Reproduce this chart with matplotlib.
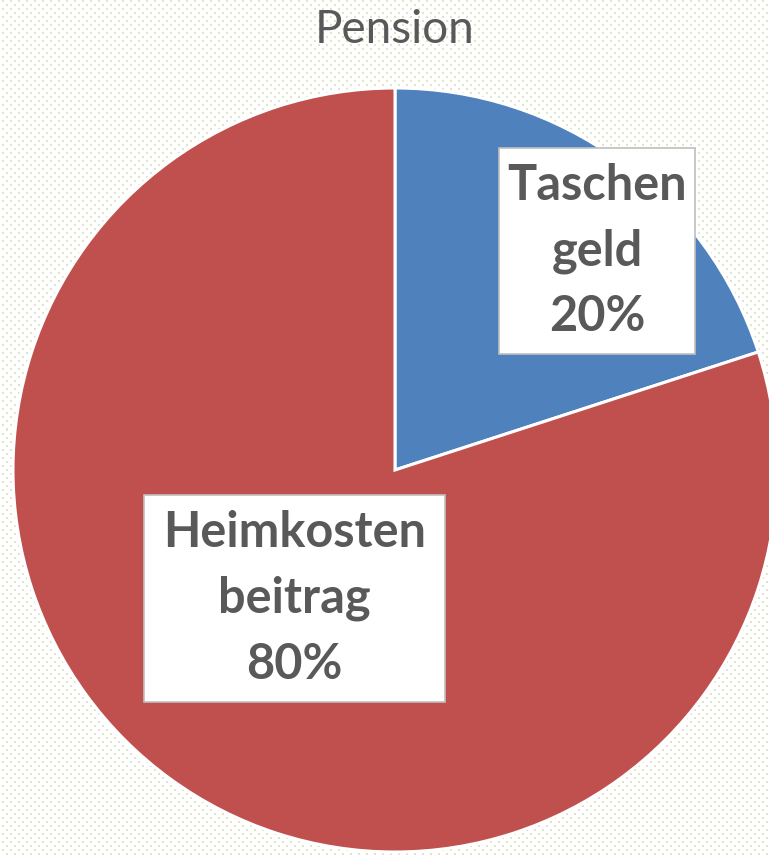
import matplotlib

matplotlib.use("Agg")
import matplotlib.pyplot as plt
from matplotlib.patches import Rectangle
import numpy as np

# data
labels = ["Taschen\ngeld", "Heimkosten\nbeitrag"]
shares = [20, 80]
colors = ["#4F81BD", "#C0504D"]
title = "Pension"

W, H = 769, 855
fig = plt.figure(figsize=(W / 100, H / 100), dpi=100)

# dotted paper background
bg = np.ones((H, W, 3))
dot = np.array([0.87, 0.90, 0.78])
for j in range(0, H, 4):
    off = 4 if (j // 4) % 2 else 0
    for i in range(off + 2, W, 8):
        bg[j + 1:j + 3, i:i + 2] = dot
bgax = fig.add_axes([0, 0, 1, 1])
bgax.imshow(bg, aspect="auto", interpolation="nearest")
bgax.axis("off")

ax = fig.add_axes([0, 0, 1, 1])
ax.patch.set_alpha(0)

cx, cy, r = 395, H - 470, 382
wedges, _ = ax.pie(shares, colors=colors, startangle=90, counterclock=False,
                   center=(cx, cy), radius=r, frame=True,
                   wedgeprops=dict(edgecolor="white", linewidth=2.2))
ax.set_xlim(0, W)
ax.set_ylim(0, H)
ax.axis("off")

# label placement: (fraction of radius, angle shift from wedge middle, pad x, pad y)
place = [(0.78, -6.7, 8, 15), (0.427, -2.0, 19, 15)]
texts = []
for w, lab, v, (fr, dth, _, _) in zip(wedges, labels, shares, place):
    th = np.deg2rad((w.theta1 + w.theta2) / 2 + dth)
    x = cx + fr * r * np.cos(th)
    y = cy + fr * r * np.sin(th)
    t = ax.text(x, y, f"{lab}\n{v}%", ha="center", va="center", fontsize=35,
                fontweight="bold", color="#595959", family="Lato",
                linespacing=1.55, zorder=5)
    texts.append(t)

fig.canvas.draw()
inv = ax.transData.inverted()
for t, (_, _, px, py) in zip(texts, place):
    bb = t.get_window_extent().transformed(inv)
    ax.add_patch(Rectangle((bb.x0 - px, bb.y0 - py), bb.width + 2 * px,
                           bb.height + 2 * py, fc="white", ec="#BFBFBF",
                           lw=1.2, zorder=4))

fig.text(395 / W, 1 - 30 / H, title, ha="center", va="center", fontsize=33,
         color="#595959", family="Lato")

fig.savefig("out.png", dpi=100)
